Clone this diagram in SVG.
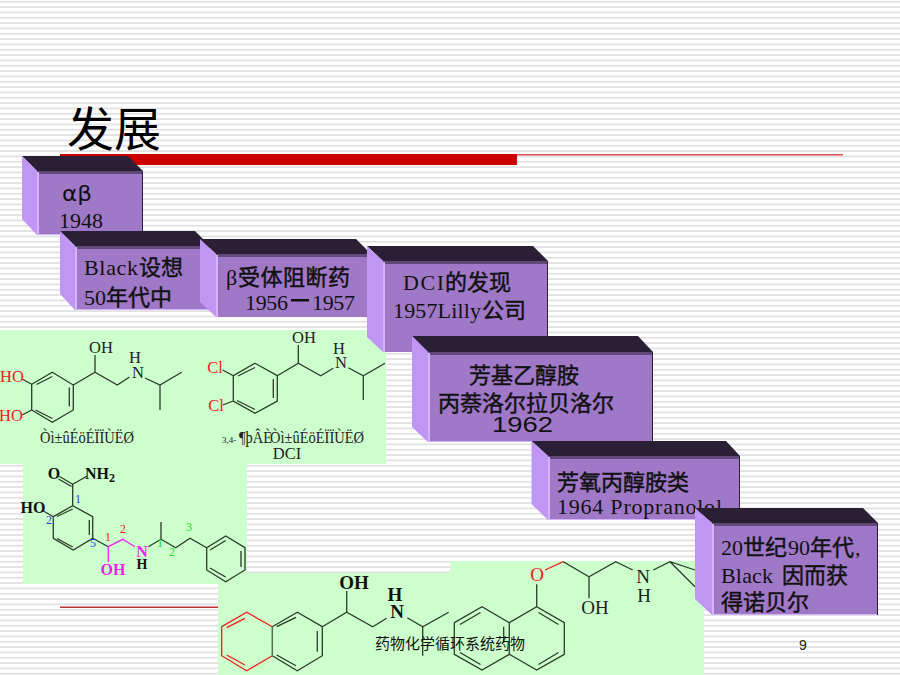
<svg xmlns="http://www.w3.org/2000/svg" width="900" height="675" viewBox="0 0 900 675">
<style>
.top{fill:#2a1f35}.strip{fill:#5f4a78}.left{fill:#c195f3}.front{fill:#a078c8}.hi{fill:#d3b4fb}.edge{fill:#2a1f35}
.green{fill:#ccffcc}
.t{font-family:"Liberation Serif","Noto Sans CJK SC",serif;font-size:22px;fill:#111}
.c{font-family:"Noto Sans CJK SC",sans-serif;font-size:22px;fill:#111;stroke:#111;stroke-width:.45}
.b{fill:none;stroke:#2a3a2a;stroke-width:1.3}
.r{fill:none;stroke:#ee2020;stroke-width:1.3}
.m{fill:none;stroke:#ee22ee;stroke-width:1.3}
.s{font-family:"Liberation Serif",serif;font-size:16.5px;fill:#222;text-anchor:middle}
.sb{font-family:"Liberation Serif",serif;font-size:16px;font-weight:700;fill:#111;text-anchor:middle}
.s.red{fill:#ee2020}
.mg{fill:#ee22ee}
.n{font-family:"Liberation Serif",serif;font-size:12px;text-anchor:middle}
.big{font-size:19px}
</style>
<defs>
<pattern id="stripes" width="8" height="5.333" patternUnits="userSpaceOnUse">
<rect width="8" height="5.333" fill="#ffffff"/>
<rect y="1" width="8" height="1.5" fill="#dcdcdc"/>
</pattern>
</defs>
<rect id="background" width="900" height="675" fill="url(#stripes)"/>
<g id="rules">
<rect x="60" y="154" width="783" height="1.5" fill="#e05050"/>
<rect x="60" y="154" width="457" height="11" fill="#cc0000"/>
<rect x="60" y="606.5" width="160" height="1.5" fill="#c03030"/>
</g>
<text id="title" x="67" y="146" font-family="'Noto Sans CJK SC',sans-serif" font-size="47" fill="#000">发展</text>

<g id="mol-isoprenaline">
<rect class="green" x="0" y="330" width="386" height="134"/>
<path class="b" d="M52.3 372.3L73.3 385V410L52.3 422.3L31.7 410V384.3ZM36.5 384.5L52.3 376.5M69.3 387.5V406.5M35.5 410L52.3 418.5M73.3 385L95 372.3L117.3 385L129.5 377M145 378L160 385L181.7 372.3M160 385V410M95 372.3V355M31.7 384.3L22 379M31.7 410L22 415"/>
<text class="s" x="101" y="353">OH</text><text class="s" x="135" y="363">H</text><text class="s" x="138" y="378">N</text>
<text class="s red" x="12" y="382">HO</text><text class="s red" x="11" y="421">HO</text>
<text class="s" x="87" y="443" textLength="94" lengthAdjust="spacingAndGlyphs">Òì±ûÉöÉÏÏÙËØ</text>
</g>
<g id="mol-dci">
<path class="b" d="M255 363.3L277.3 375.7V401L255 413.3L233.3 401V375.7ZM238 376L255 367.5M273.3 379V398M237 400.5L255 409.5M277.3 375.7L298.3 363.3L320.7 375.7L333.3 368.3M348.3 367.7L363.3 375.7L385 363.3M363.3 375.7V400M298.3 363.3V345M233.3 375.7L222.7 370M233.3 401L222.7 405"/>
<text class="s" x="304" y="343">OH</text><text class="s" x="339" y="354">H</text><text class="s" x="341" y="368">N</text>
<text class="s red" x="215" y="373">Cl</text><text class="s red" x="216" y="411">Cl</text>
<text font-family="'Liberation Serif',serif" font-size="9" fill="#222" x="222" y="443">3,4-</text>
<text font-family="'Liberation Serif',serif" font-size="16.5" fill="#222" x="239" y="443" textLength="33" lengthAdjust="spacingAndGlyphs">¶þÂÈ</text>
<text font-family="'Liberation Serif',serif" font-size="16.5" fill="#222" x="270" y="443" textLength="94" lengthAdjust="spacingAndGlyphs">Òì±ûÉöÉÏÏÙËØ</text>
<text class="s" x="287" y="459">DCI</text>
</g>
<g id="mol-pronethalol">
<rect class="green" x="218" y="573" width="232" height="102"/>
<path class="b" d="M272.3 626.7L297.3 612.3L322.3 626.7V655.7L297.3 670.7L272.3 655.7M276.7 626.7L296 617.3M317.3 631V651.7M276.7 655L296 665.7M322.3 626.7L346.7 612.3L372.7 626.7L386.7 618.3M346.7 612.3V591M407.3 617.7L422.7 626.7L448.7 612.3M422.7 626.7V655.7"/>
<path d="M272.3 626.7V655.7" fill="none" stroke="#507050" stroke-width="1.5"/>
<path class="r" d="M272.3 626.7L246.7 612.3L221.7 626.7V655.7L246.7 670.7L272.3 655.7M226.7 627.7L245 618.3M226.7 655L245 665"/>
<text class="sb big" x="354" y="589">OH</text><text class="sb big" x="395" y="601">H</text><text class="sb big" x="397" y="618">N</text>
</g>
<g id="mol-labetalol">
<rect class="green" x="23" y="464" width="224" height="120"/>
<path class="b" d="M72.7 505.7L92.7 516.7V538.3L73.3 550L53.3 538.3V516.7ZM57 516.5L72.7 509M89.3 520V535M57 538.5L72.7 547M72.7 505.7V484.3L59.5 476.5M71.5 486.5L58.5 479M72.7 484.3L87.3 476M53.3 516.7L41.7 510M92.7 538.3L108.3 546.7M148.3 546.7L161 539.3M161 539.3V522M161 539.3L175.7 547.7L190 538.3L206.7 547.7L225.7 536L245 547.7V570L225.7 581.7L206.7 570V547.7M210 550L225.7 540.5M241 551V567M210 568L225.7 577"/>
<path class="m" d="M108.3 546.7L122.7 539.3L135 546.7M108.3 546.7V562"/>
<text class="sb" x="54" y="479">O</text><text class="sb" x="100" y="479">NH<tspan font-size="12" dy="3">2</tspan></text>
<text class="sb" x="33" y="513">HO</text>
<text class="sb mg" x="142" y="557">N</text><text class="sb" x="142" y="568.5" style="font-size:14px">H</text>
<text class="sb mg" x="113" y="575">OH</text>
<g class="n">
<text x="78" y="503" fill="#2244ee">1</text><text x="49" y="524" fill="#2244ee">2</text><text x="93" y="547" fill="#2244ee">5</text>
<text x="108" y="541" fill="#ee2222">1</text><text x="123" y="533" fill="#ee2222">2</text>
<text x="160" y="547" fill="#22dd22">1</text><text x="172" y="556" fill="#22dd22">2</text><text x="189" y="531" fill="#22dd22">3</text>
</g>
</g>
<g id="mol-propranolol">
<rect class="green" x="450" y="561" width="254" height="114"/>
<path class="b" d="M509.3 622.7L482 606.7L454.3 622.7V654.3L482 670L509.3 654.3V622.7L536.7 606.7L564.3 622.7V654.3L536.7 670L509.3 654.3M460 624.5L480.5 612.5M460 652.5L480.5 664.5M538.5 612.5L558.5 624.5M538.5 664.5L558.5 652.5M503.7 626.7V643M536.7 606.7V584.3M563.3 561.7L589 576.7L615.7 561.7L632.7 570M589 576.7V598.3M653.3 570L670 561.7L695 570M670 561.7L695 586.7"/>
<path class="r" d="M545 570L563.3 561.7"/>
<text class="s red big" x="537" y="581">O</text>
<text class="s big" x="595" y="614">OH</text>
<text class="s big" x="643" y="583">N</text><text class="s big" x="644" y="602">H</text>
</g>

<g id="box-1948">
<polygon class="top" points="22,156 128,156 143,171 37,171"/>
<polygon class="left" points="22,156 37,171 37,235 22,219"/>
<rect class="front" x="37" y="171" width="106" height="64"/>
<rect class="strip" x="37" y="171" width="106" height="3"/>
<rect class="hi" x="37" y="172" width="2" height="63"/><rect class="hi" x="37" y="234" width="106" height="1"/><rect class="edge" x="142" y="171" width="1" height="64"/>
<text x="62" y="201" font-family="'DejaVu Sans',sans-serif" font-size="21" fill="#111" textLength="30" lengthAdjust="spacingAndGlyphs">αβ</text>
<text class="t" x="59" y="228" textLength="44">1948</text>
</g>
<g id="box-black">
<polygon class="top" points="60,231 195,231 210,246 75,246"/>
<polygon class="left" points="60,231 75,246 75,310 60,294"/>
<rect class="front" x="75" y="246" width="135" height="64"/>
<rect class="strip" x="75" y="246" width="135" height="3"/>
<rect class="hi" x="75" y="247" width="2" height="63"/><rect class="hi" x="75" y="309" width="135" height="1"/>
<text class="t" x="84" y="275" textLength="54">Black</text><text class="c" x="139" y="275">设想</text>
<text class="t" x="84" y="305">50</text><text class="c" x="106" y="305">年代中</text>
</g>
<g id="box-beta">
<polygon class="top" points="200,239 356,239 371,254 216,254"/>
<polygon class="left" points="200,239 216,254 216,317 200,302"/>
<rect class="front" x="216" y="254" width="155" height="63"/>
<rect class="strip" x="216" y="254" width="155" height="3"/>
<rect class="hi" x="216" y="255" width="2" height="62"/>
<text class="t" x="226" y="285">β</text><text class="c" x="238" y="285" textLength="112">受体阻断药</text>
<text class="t" x="245" y="310" textLength="43">1956</text><rect x="291" y="299" width="18" height="2.5" fill="#111"/><text class="t" x="312" y="310" textLength="43">1957</text>
</g>
<g id="box-dci">
<polygon class="top" points="367,246 533,246 548,261 383,261"/>
<polygon class="left" points="367,246 383,261 383,352 367,337"/>
<rect class="front" x="383" y="261" width="165" height="91"/>
<rect class="strip" x="383" y="261" width="165" height="3"/>
<rect class="hi" x="383" y="262" width="2" height="90"/><rect class="edge" x="547" y="261" width="1" height="91"/>
<text class="t" x="403" y="290" textLength="41">DCI</text><text class="c" x="445" y="290">的发现</text>
<text class="t" x="393" y="318" textLength="88">1957Lilly</text><text class="c" x="482" y="318">公司</text>
</g>
<g id="box-arylethanolamine">
<polygon class="top" points="412,336 638,336 653,352 428,352"/>
<polygon class="left" points="412,336 428,352 428,442 412,427"/>
<rect class="front" x="428" y="352" width="225" height="90"/>
<rect class="strip" x="428" y="352" width="225" height="3"/>
<rect class="hi" x="428" y="353" width="2" height="89"/><rect class="hi" x="428" y="441" width="225" height="1"/><rect class="edge" x="652" y="352" width="1" height="90"/>
<text class="c" x="469" y="383">芳基乙醇胺</text>
<text class="c" x="438" y="411">丙萘洛尔拉贝洛尔</text>
<text x="492" y="432" font-family="'Liberation Sans',sans-serif" font-size="22" fill="#111" textLength="61" lengthAdjust="spacingAndGlyphs">1962</text>
</g>
<g id="box-propranolol">
<polygon class="top" points="531.5,441 726,441 740,456 548,456"/>
<polygon class="left" points="531.5,441 548,456 548,520 531.5,504"/>
<rect class="front" x="548" y="456" width="192" height="64"/>
<rect class="strip" x="548" y="456" width="192" height="3"/>
<rect class="hi" x="548" y="457" width="2" height="63"/><rect class="hi" x="548" y="519" width="192" height="1"/><rect class="edge" x="739" y="456" width="1" height="64"/>
<text class="c" x="557" y="490">芳氧丙醇胺类</text>
<text class="t" x="557" y="514" textLength="165">1964 Propranolol</text>
</g>
<g id="box-nobel">
<polygon class="top" points="695,508 863,508 878,523 712,523"/>
<polygon class="left" points="695,508 712,523 712,615 695,599"/>
<rect class="front" x="712" y="523" width="166" height="92"/>
<rect class="strip" x="712" y="523" width="166" height="3"/>
<rect class="hi" x="712" y="524" width="2" height="91"/><rect class="hi" x="712" y="614" width="166" height="1"/><rect class="edge" x="877" y="523" width="1" height="92"/>
<text class="t" x="721" y="555">20</text><text class="c" x="743" y="555">世纪</text><text class="t" x="788" y="555">90</text><text class="c" x="810" y="555">年代</text><text class="t" x="855" y="555">,</text>
<text class="t" x="721" y="583" textLength="52">Black</text><text class="c" x="782" y="583">因而获</text>
<text class="c" x="721" y="610">得诺贝尔</text>
</g>
<g id="footer">
<text x="375" y="649" font-family="'Noto Sans CJK SC',sans-serif" font-size="15" fill="#111">药物化学循环系统药物</text>
<text x="799" y="650" font-family="'Liberation Sans',sans-serif" font-size="14" fill="#222">9</text>
</g>
</svg>
